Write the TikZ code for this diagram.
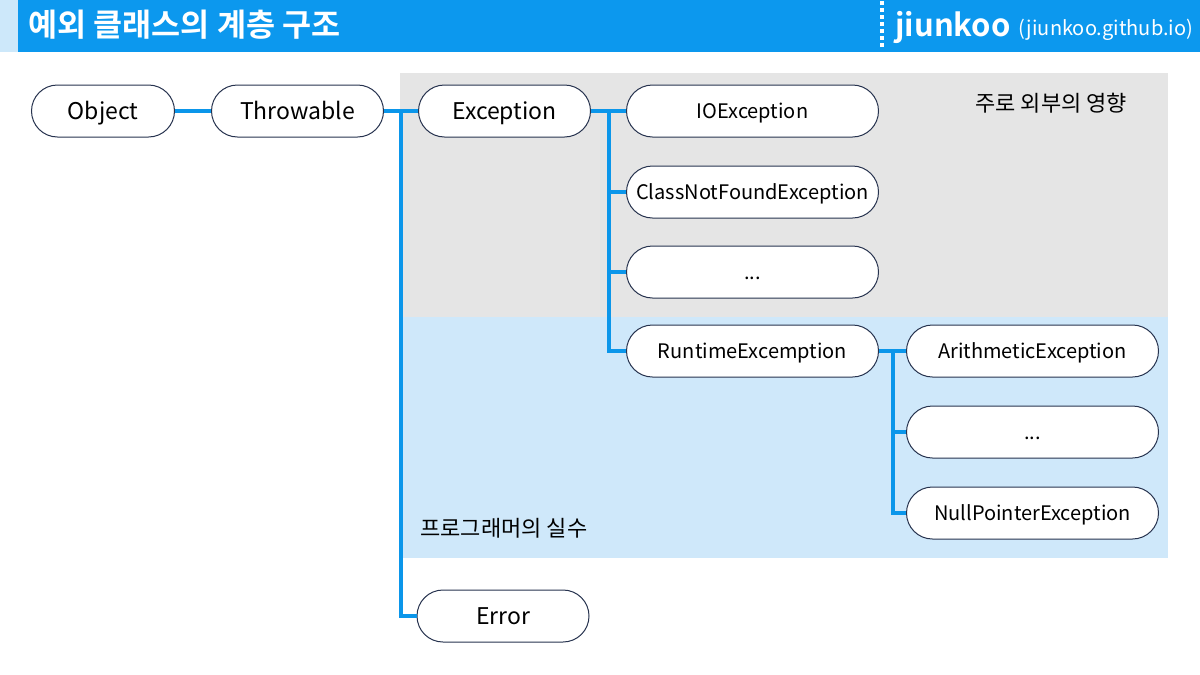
\documentclass[tikz,border=0pt]{standalone}
\usepackage{fontspec}
\setmainfont{Noto Sans CJK KR}[BoldFont={Noto Sans CJK KR Bold}]
\usepackage{tikz}
\usepackage{xcolor}
\usetikzlibrary{positioning, calc}
\definecolor{headblue}{HTML}{0C98EE}
\definecolor{stripblue}{HTML}{CDE8FA}
\definecolor{linkblue}{HTML}{0B96EA}
\definecolor{extgray}{HTML}{E5E5E5}
\definecolor{progblue}{HTML}{CFE8FA}
\definecolor{pillline}{HTML}{27334F}
\tikzstyle{cls} = [rectangle, rounded corners=13pt, minimum width=86pt, minimum height=26pt, inner sep=0pt, text height=10.5pt, text depth=2pt, text centered, draw=pillline, line width=0.5pt, fill=white, font=\fontsize{11.5}{13}\selectfont]
\tikzstyle{sub} = [cls, minimum width=126pt, text height=9.3pt, text depth=2pt, font=\fontsize{10}{12}\selectfont]
\tikzstyle{link} = [draw=linkblue, line width=2pt]
\tikzstyle{note} = [inner sep=0pt, font=\fontsize{11}{13}\selectfont]

\begin{document}
\begin{tikzpicture}[x=0.5pt, y=-0.5pt]
    \useasboundingbox (0,0) rectangle (1200,675);
    % header
    \fill[stripblue] (0,0) rectangle (18,52);
    \fill[headblue] (18,0) rectangle (1200,52);
    \node (title) [anchor=west, inner sep=0pt, text=white, font=\fontsize{15.8}{18}\selectfont\bfseries] at (28,25) {예외 클래스의 계층 구조};
    \draw[white, line width=2pt, dash pattern=on 2pt off 1.5pt] (882,1) -- (882,50);
    \node (brand) [anchor=base west, inner sep=0pt, text=white, font=\fontsize{15.5}{18}\selectfont\bfseries] at (895,36) {jiunkoo};
    \node (site) [anchor=base west, inner sep=0pt, text=white, font=\fontsize{10}{12}\selectfont] at (1018,35) {(jiunkoo.github.io)};
    % regions
    \fill[extgray] (400,73) rectangle (1168,317);
    \fill[progblue] (400,317) rectangle (1168,558);
    \node (outer) [note, anchor=west] at (975,103) {주로 외부의 영향};
    \node (mistake) [note, anchor=west] at (420,528) {프로그래머의 실수};
    % classes
    \node (obj) [cls, minimum width=71.5pt] at (103,111) {Object};
    \node (thr) [cls, right=18pt of obj] {Throwable};
    \node (exc) [cls, right=17pt of thr] {Exception};
    \node (io) [sub, right=17.5pt of exc] {IOException};
    \node (cnf) [sub, below=14pt of io] {ClassNotFoundException};
    \node (etca) [sub, below=13.5pt of cnf] {...};
    \node (rte) [sub, below=13pt of etca] {RuntimeExcemption};
    \node (ari) [sub, right=13.5pt of rte] {ArithmeticException};
    \node (etcb) [sub, below=14pt of ari] {...};
    \node (npe) [sub, below=14pt of etcb] {NullPointerException};
    \node (err) [cls] at (503,616) {Error};
    % connectors
    \draw[link] (obj) -- (thr);
    \draw[link] (thr.east) -- (exc.west);
    \draw[link] ($(thr.east)!.5!(exc.west)$) |- (err.west);
    \draw[link] (exc.east) -- (io.west);
    \foreach \c in {cnf, etca, rte}
        \draw[link] ($(exc.east)!.5!(io.west)$) |- (\c.west);
    \draw[link] (rte.east) -- (ari.west);
    \foreach \c in {etcb, npe}
        \draw[link] ($(rte.east)!.5!(ari.west)$) |- (\c.west);

\end{tikzpicture}
\end{document}
